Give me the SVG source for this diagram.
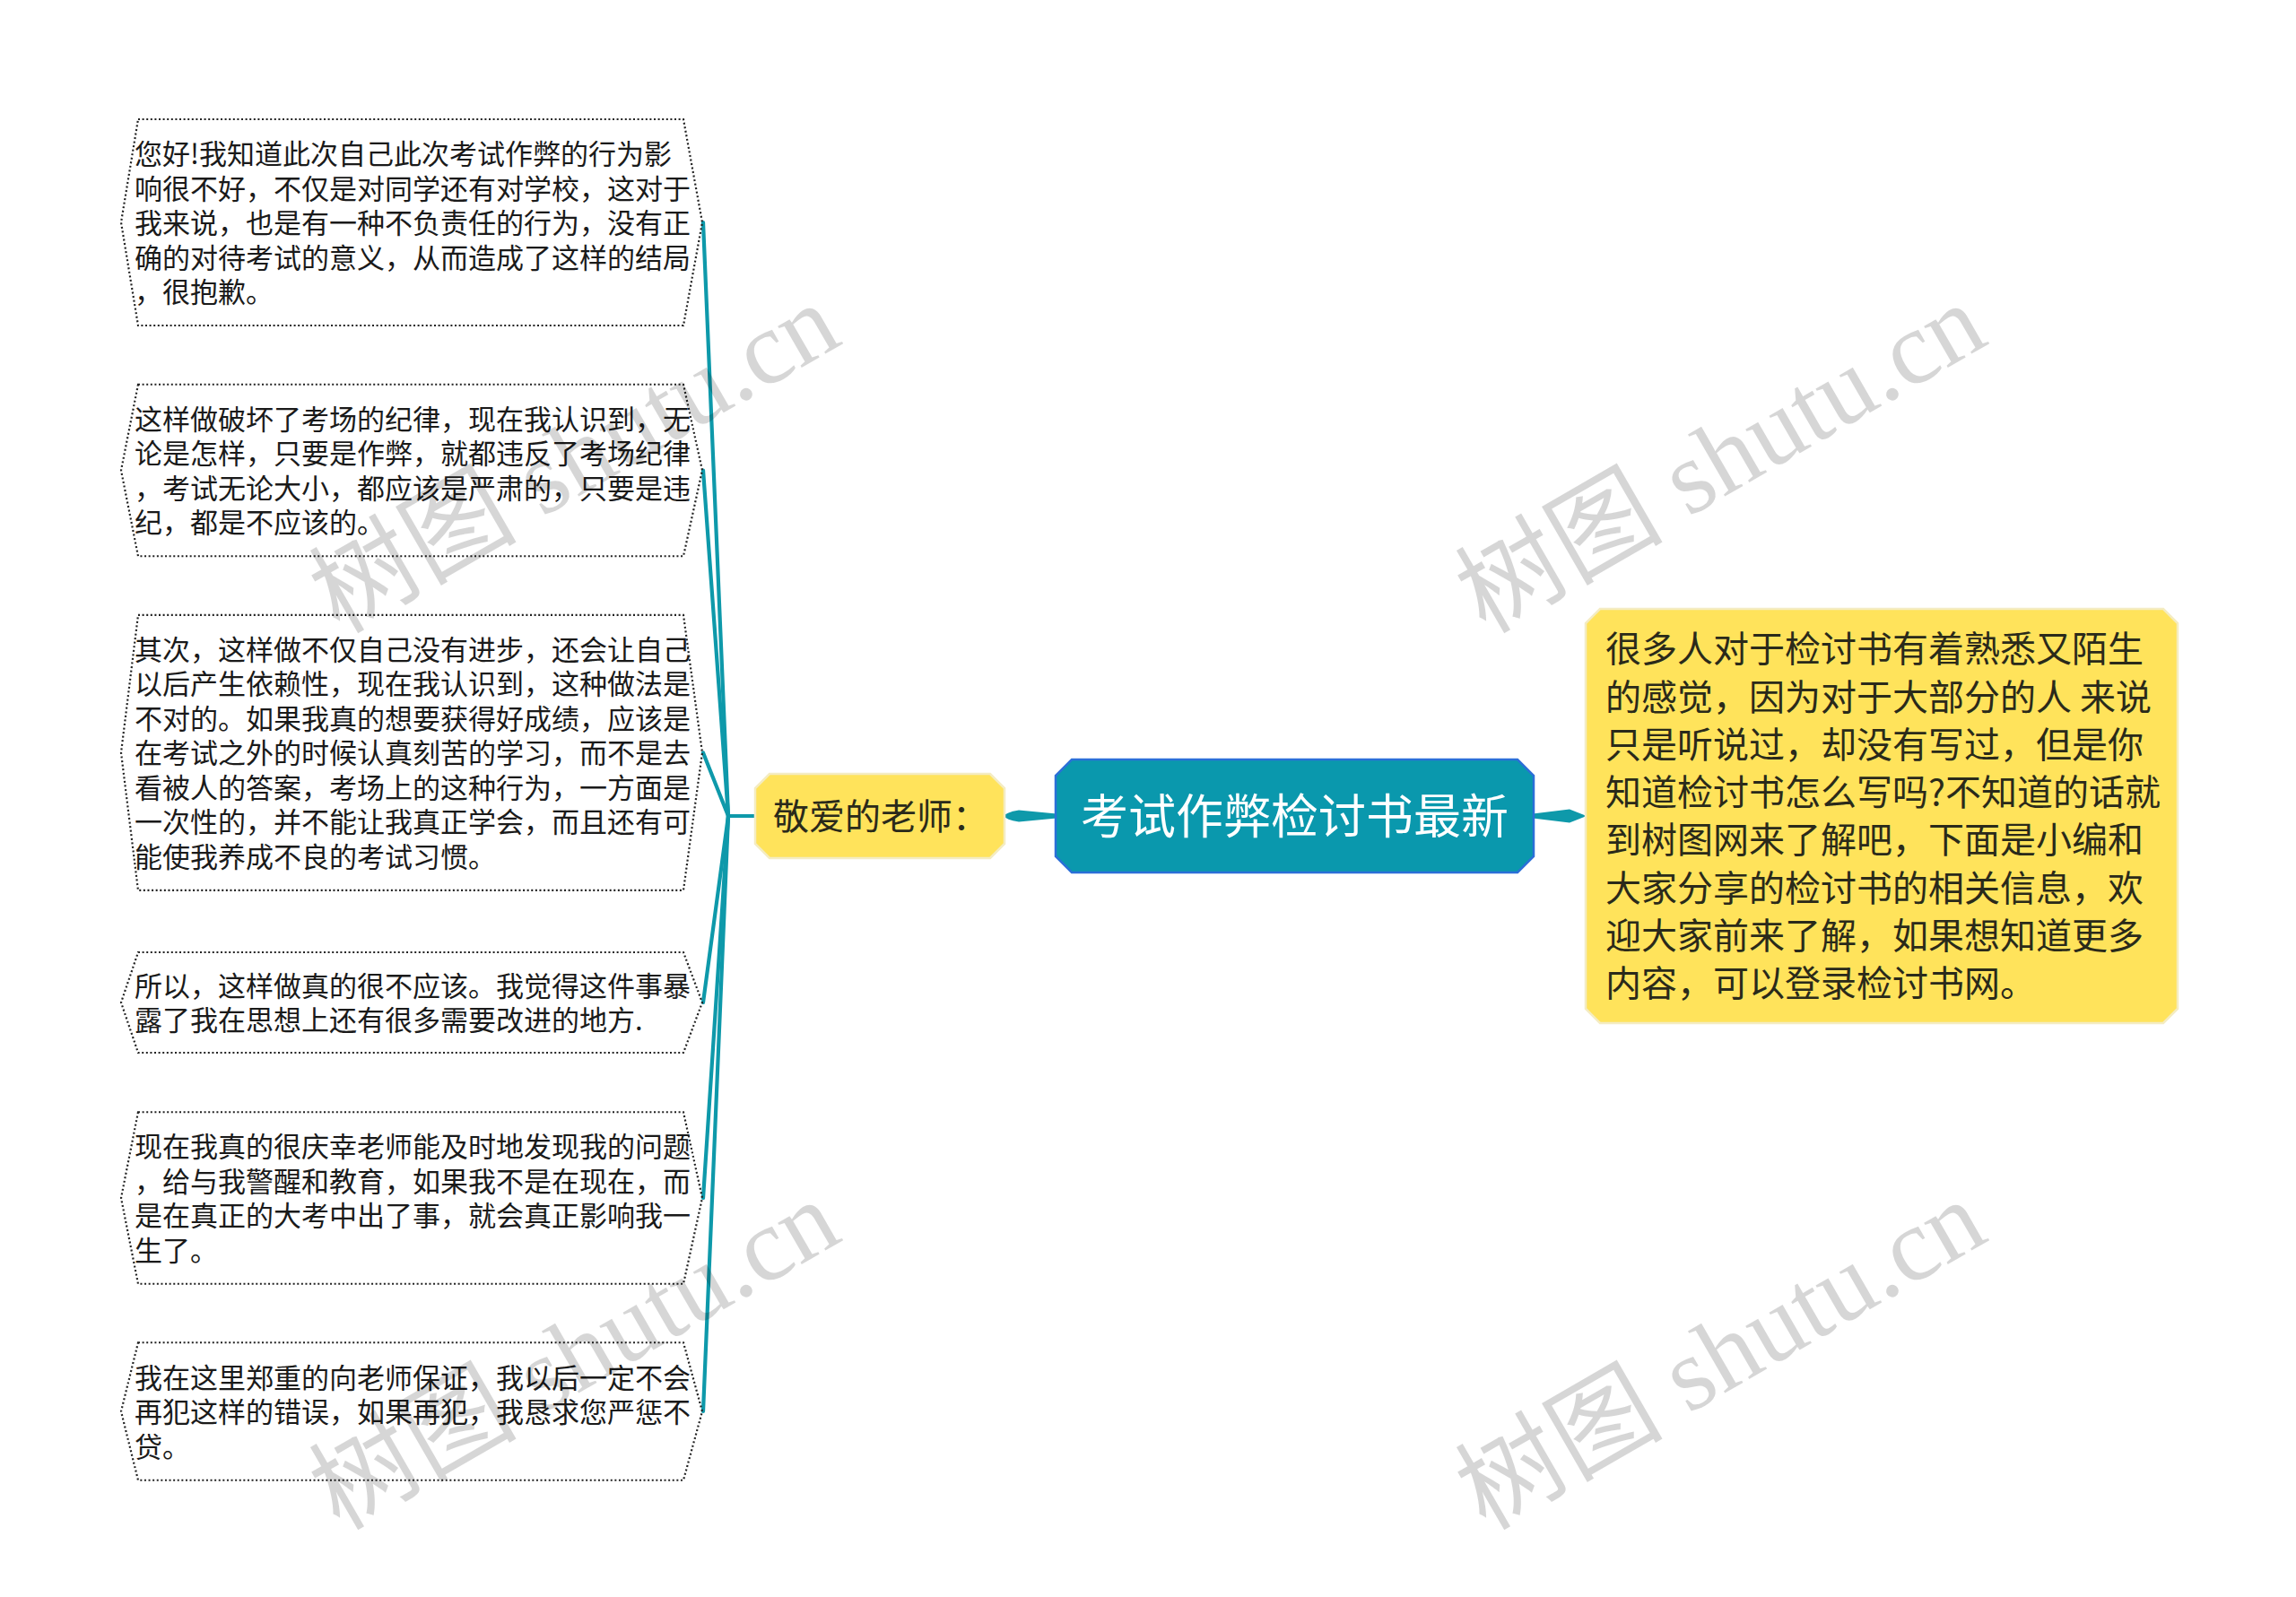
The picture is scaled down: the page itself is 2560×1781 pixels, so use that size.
<svg xmlns="http://www.w3.org/2000/svg" width="2560" height="1781" viewBox="0 0 2560 1781">
<style>
.bg{fill:#ffffff}
.leaf{fill:none;stroke:#222;stroke-width:2.2;stroke-dasharray:2 2.6}
.lt{font-family:"Noto Sans CJK SC","Liberation Sans",sans-serif;font-size:31px;fill:#1a1a1a}
.yel{fill:#FFE35B;stroke:#F4ECC2;stroke-width:2.5}
.yt{font-family:"Noto Sans CJK SC","Liberation Sans",sans-serif;font-size:40px;fill:#2a2a1a}
.root{fill:#0A98AD;stroke:#2B6FD8;stroke-width:2.5}
.rt{font-family:"Noto Sans CJK SC","Liberation Sans",sans-serif;font-size:53px;fill:#ffffff}
.ln{fill:none;stroke:#0E99AA;stroke-width:4.2;stroke-linecap:round}
.tp{fill:#0E99AA}
.wm{font-family:"Liberation Serif","Noto Sans CJK SC",serif;font-size:116px;fill:#000;fill-opacity:0.16}
</style>
<rect class="bg" x="0" y="0" width="2560" height="1781"/>

<g id="connectors">
  <line class="ln" x1="812" y1="910" x2="842" y2="910"/>
  <line class="ln" x1="812" y1="910" x2="784" y2="248"/>
  <line class="ln" x1="812" y1="910" x2="784" y2="524.5"/>
  <line class="ln" x1="812" y1="910" x2="784" y2="839.4"/>
  <line class="ln" x1="812" y1="910" x2="784" y2="1118"/>
  <line class="ln" x1="812" y1="910" x2="784" y2="1336"/>
  <line class="ln" x1="812" y1="910" x2="784" y2="1574"/>
  <path class="tp" d="M1178,907.5 L1136,903.5 Q1121,906 1120,910 Q1121,914 1136,916.5 L1178,912.5 Z"/>
  <path class="tp" d="M1709,907.5 L1750,902.5 L1769,910 L1750,917.5 L1709,912.5 Z"/>
</g>

<g id="node-root">
  <polygon class="root" points="1195,847 1692,847 1710,865 1710,955 1692,973 1195,973 1177,955 1177,865"/>
  <text class="rt" x="1443.5" y="930" text-anchor="middle">考试作弊检讨书最新</text>
</g>

<g id="node-teacher">
  <polygon class="yel" points="858,863 1104,863 1120,879 1120,941 1104,957 858,957 842,941 842,879"/>
  <text class="yt" x="862" y="925">敬爱的老师：</text>
</g>

<g id="node-intro">
  <polygon class="yel" points="1784,679 2412,679 2428,695 2428,1125 2412,1141 1784,1141 1768,1125 1768,695"/>
  <text class="yt" x="1790">
    <tspan x="1790" y="738.2">很多人对于检讨书有着熟悉又陌生</tspan>
    <tspan x="1790" y="791.5">的感觉，因为对于大部分的人 来说</tspan>
    <tspan x="1790" y="844.8">只是听说过，却没有写过，但是你</tspan>
    <tspan x="1790" y="898.1">知道检讨书怎么写吗?不知道的话就</tspan>
    <tspan x="1790" y="951.4">到树图网来了解吧，下面是小编和</tspan>
    <tspan x="1790" y="1004.7">大家分享的检讨书的相关信息，欢</tspan>
    <tspan x="1790" y="1058">迎大家前来了解，如果想知道更多</tspan>
    <tspan x="1790" y="1111.3">内容，可以登录检讨书网。</tspan>
  </text>
</g>

<g id="node-1">
  <polygon class="leaf" points="154,133 762,133 783,248 762,363 154,363 135,248"/>
  <text class="lt">
    <tspan x="150" y="183">您好!我知道此次自己此次考试作弊的行为影</tspan>
    <tspan x="150" y="221.5">响很不好，不仅是对同学还有对学校，这对于</tspan>
    <tspan x="150" y="260">我来说，也是有一种不负责任的行为，没有正</tspan>
    <tspan x="150" y="298.5">确的对待考试的意义，从而造成了这样的结局</tspan>
    <tspan x="150" y="337">，很抱歉。</tspan>
  </text>
</g>

<g id="node-2">
  <polygon class="leaf" points="154,428.75 762,428.75 783,524.5 762,620.25 154,620.25 135,524.5"/>
  <text class="lt">
    <tspan x="150" y="478.75">这样做破坏了考场的纪律，现在我认识到，无</tspan>
    <tspan x="150" y="517.25">论是怎样，只要是作弊，就都违反了考场纪律</tspan>
    <tspan x="150" y="555.75">，考试无论大小，都应该是严肃的，只要是违</tspan>
    <tspan x="150" y="594.25">纪，都是不应该的。</tspan>
  </text>
</g>

<g id="node-3">
  <polygon class="leaf" points="154,685.9 762,685.9 783,839.4 762,992.9 154,992.9 135,839.4"/>
  <text class="lt">
    <tspan x="150" y="735.9">其次，这样做不仅自己没有进步，还会让自己</tspan>
    <tspan x="150" y="774.4">以后产生依赖性，现在我认识到，这种做法是</tspan>
    <tspan x="150" y="812.9">不对的。如果我真的想要获得好成绩，应该是</tspan>
    <tspan x="150" y="851.4">在考试之外的时候认真刻苦的学习，而不是去</tspan>
    <tspan x="150" y="889.9">看被人的答案，考场上的这种行为，一方面是</tspan>
    <tspan x="150" y="928.4">一次性的，并不能让我真正学会，而且还有可</tspan>
    <tspan x="150" y="966.9">能使我养成不良的考试习惯。</tspan>
  </text>
</g>

<g id="node-4">
  <polygon class="leaf" points="154,1062 762,1062 783,1118 762,1174 154,1174 135,1118"/>
  <text class="lt">
    <tspan x="150" y="1110.75">所以，这样做真的很不应该。我觉得这件事暴</tspan>
    <tspan x="150" y="1149.25">露了我在思想上还有很多需要改进的地方.</tspan>
  </text>
</g>

<g id="node-5">
  <polygon class="leaf" points="154,1240.25 762,1240.25 783,1336 762,1431.75 154,1431.75 135,1336"/>
  <text class="lt">
    <tspan x="150" y="1290.25">现在我真的很庆幸老师能及时地发现我的问题</tspan>
    <tspan x="150" y="1328.75">，给与我警醒和教育，如果我不是在现在，而</tspan>
    <tspan x="150" y="1367.25">是在真正的大考中出了事，就会真正影响我一</tspan>
    <tspan x="150" y="1405.75">生了。</tspan>
  </text>
</g>

<g id="node-6">
  <polygon class="leaf" points="154,1497.25 762,1497.25 783,1574 762,1650.75 154,1650.75 135,1574"/>
  <text class="lt">
    <tspan x="150" y="1547.5">我在这里郑重的向老师保证，我以后一定不会</tspan>
    <tspan x="150" y="1586">再犯这样的错误，如果再犯，我恳求您严惩不</tspan>
    <tspan x="150" y="1624.5">贷。</tspan>
  </text>
</g>

<g id="watermarks">
  <text class="wm" text-anchor="middle" transform="translate(660,545) rotate(-30)">树图 shutu.cn</text>
  <text class="wm" text-anchor="middle" transform="translate(1938,545) rotate(-30)">树图 shutu.cn</text>
  <text class="wm" text-anchor="middle" transform="translate(660,1545) rotate(-30)">树图 shutu.cn</text>
  <text class="wm" text-anchor="middle" transform="translate(1938,1545) rotate(-30)">树图 shutu.cn</text>
</g>
</svg>
